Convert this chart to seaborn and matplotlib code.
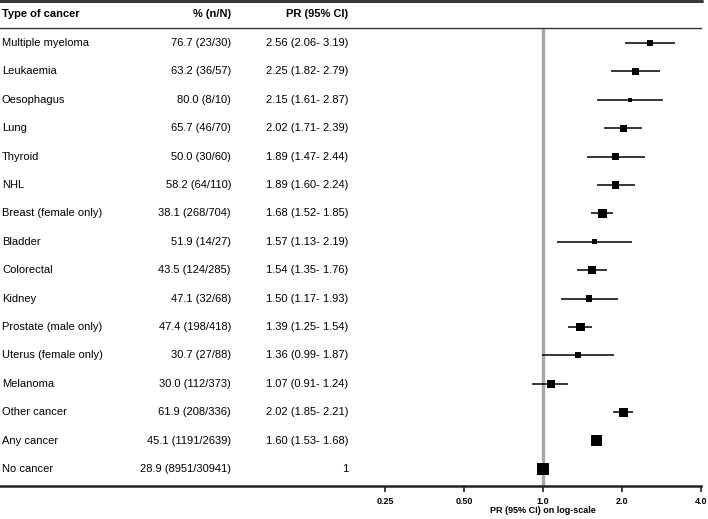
import numpy as np
import pandas as pd
import seaborn as sns
import matplotlib.pyplot as plt
import matplotlib.colors as mcolors
import matplotlib.transforms as mtransforms
from matplotlib.lines import Line2D

# forest plot data (top to bottom)
cancers = ["Multiple myeloma", "Leukaemia", "Oesophagus", "Lung", "Thyroid", "NHL",
           "Breast (female only)", "Bladder", "Colorectal", "Kidney",
           "Prostate (male only)", "Uterus (female only)", "Melanoma",
           "Other cancer", "Any cancer", "No cancer"]
pct = [76.7, 63.2, 80.0, 65.7, 50.0, 58.2, 38.1, 51.9, 43.5, 47.1, 47.4, 30.7, 30.0,
       61.9, 45.1, 28.9]
n_cases = [23, 36, 8, 46, 30, 64, 268, 14, 124, 32, 198, 27, 112, 208, 1191, 8951]
n_total = [30, 57, 10, 70, 60, 110, 704, 27, 285, 68, 418, 88, 373, 336, 2639, 30941]
pr = [2.56, 2.25, 2.15, 2.02, 1.89, 1.89, 1.68, 1.57, 1.54, 1.50, 1.39, 1.36, 1.07,
      2.02, 1.60, 1.0]
ci_lo = [2.06, 1.82, 1.61, 1.71, 1.47, 1.60, 1.52, 1.13, 1.35, 1.17, 1.25, 0.99, 0.91,
         1.85, 1.53, np.nan]
ci_hi = [3.19, 2.79, 2.87, 2.39, 2.44, 2.24, 1.85, 2.19, 1.76, 1.93, 1.54, 1.87, 1.24,
         2.21, 1.68, np.nan]
tick_vals = [0.25, 0.5, 1.0, 2.0, 4.0]
tick_labels = ["0.25", "0.50", "1.0", "2.0", "4.0"]

df = pd.DataFrame({"cancer": cancers, "pct": pct, "n": n_cases, "N": n_total,
                   "pr": pr, "lo": ci_lo, "hi": ci_hi})
df["row"] = np.arange(len(df))

sns.set_theme(style="white")
plt.rcParams["font.family"] = ["Liberation Sans", "DejaVu Sans"]
plt.rcParams["text.color"] = "black"
plt.rcParams["xtick.color"] = "black"
plt.rcParams["axes.labelcolor"] = "black"

W, H = 708, 519
fig = plt.figure(figsize=(W / 100, H / 100), dpi=100)
ax = fig.add_axes([0, (H - 486) / H, 701 / W, (486 - 28) / H])

ax.set_xscale("log", base=2)
px_per_doubling = 79
ax.set_xlim(2 ** (-543 / px_per_doubling), 4.0)
ax.set_ylim(15.6, -0.53)

# reference line at PR = 1
ax.axvline(1.0, color="#a8a8a8", lw=2.4, zorder=1)

# confidence intervals
ci = df.dropna(subset=["lo", "hi"])
ax.hlines(ci["row"], ci["lo"], ci["hi"], color="black", lw=1.1, zorder=2)

# point estimates, box size by number of cases
sns.scatterplot(data=df, x="pr", y="row", size="n", sizes=(6.5, 82),
                size_norm=mcolors.LogNorm(8, 8951), marker="s", color="black",
                linewidth=0, legend=False, ax=ax, zorder=3)

# table columns
trans = mtransforms.blended_transform_factory(fig.transFigure, ax.transData)
fs = 8
for _, r in df.iterrows():
    ax.text(2 / W, r["row"], r["cancer"], transform=trans, ha="left", va="center",
            fontsize=fs)
    ax.text(231 / W, r["row"], f"{r['pct']:.1f} ({r['n']}/{r['N']})", transform=trans,
            ha="right", va="center", fontsize=fs)
    if np.isnan(r["lo"]):
        pr_txt = "1"
    else:
        pr_txt = f"{r['pr']:.2f} ({r['lo']:.2f}- {r['hi']:.2f})"
    ax.text(348 / W, r["row"], pr_txt, transform=trans, ha="right", va="center",
            fontsize=fs)

header_y = -1.02
ax.text(2 / W, header_y, "Type of cancer", transform=trans, ha="left", va="center",
        fontsize=fs, fontweight="bold")
ax.text(231 / W, header_y, "% (n/N)", transform=trans, ha="right", va="center",
        fontsize=fs, fontweight="bold")
ax.text(348 / W, header_y, "PR (95% CI)", transform=trans, ha="right", va="center",
        fontsize=fs, fontweight="bold")

# top rule
fig.add_artist(Line2D([0, 702 / W], [1 - 1.3 / H, 1 - 1.3 / H],
                      transform=fig.transFigure, color="#3a3a3a", lw=2.2))

# axes styling
for side in ["left", "right"]:
    ax.spines[side].set_visible(False)
ax.spines["top"].set_color("#333333")
ax.spines["top"].set_linewidth(1.0)
ax.spines["bottom"].set_color("#222222")
ax.spines["bottom"].set_linewidth(1.8)
ax.set_yticks([])
ax.set_xticks(tick_vals)
ax.set_xticklabels(tick_labels, fontsize=6.5, fontweight="bold")
ax.minorticks_off()
ax.tick_params(axis="x", direction="out", length=4, width=1.2, pad=4,
               bottom=True, top=False, color="#222222")
ax.set_xlabel("PR (95% CI) on log-scale", fontsize=6.5, fontweight="bold")
ax.xaxis.set_label_coords(543 / 701, -0.043)
ax.set_ylabel("")

fig.savefig("out.png", dpi=100)
